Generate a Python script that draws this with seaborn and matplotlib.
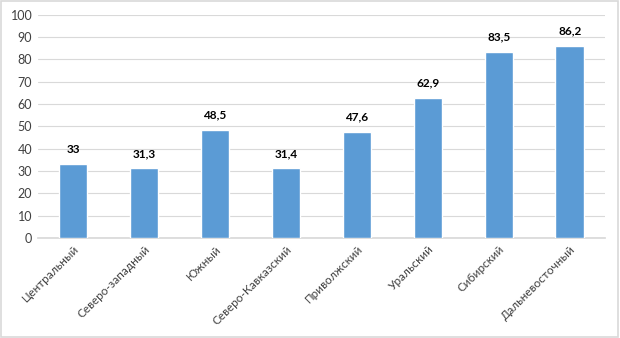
import matplotlib
matplotlib.use("Agg")
import matplotlib.pyplot as plt
import seaborn as sns
import pandas as pd
from matplotlib.patches import Rectangle

categories = ["Центральный", "Северо-западный", "Южный", "Северо-Кавказский",
              "Приволжский", "Уральский", "Сибирский", "Дальневосточный"]
values = [33, 31.3, 48.5, 31.4, 47.6, 62.9, 83.5, 86.2]
labels = ["33", "31,3", "48,5", "31,4", "47,6", "62,9", "83,5", "86,2"]
yticks = [0, 10, 20, 30, 40, 50, 60, 70, 80, 90, 100]

sns.set_theme(style="white")
plt.rcParams['font.family'] = ['Lato', 'DejaVu Sans']

df = pd.DataFrame({"cat": categories, "val": values})

fig = plt.figure(figsize=(6.2, 3.38), dpi=100)
ax = fig.add_axes([0.061, 0.296, 0.915, 0.66])
sns.barplot(data=df, x="cat", y="val", color="#5B9BD5", width=0.4, saturation=1, ax=ax, zorder=3)

ax.set_ylim(0, 100)
ax.set_yticks(yticks)
ax.set_yticklabels([str(t) for t in yticks], fontsize=9, color="#404040")
ax.yaxis.grid(True, color="#D9D9D9", linewidth=0.8, zorder=0)
ax.set_axisbelow(True)
for s in ["top", "right", "left"]:
    ax.spines[s].set_visible(False)
ax.spines["bottom"].set_color("#D9D9D9")
ax.tick_params(axis="both", length=0, pad=4)
ax.set_xlabel("")
ax.set_ylabel("")
ax.set_xticks(range(len(categories)))
ax.set_xticklabels(categories, rotation=45, ha="right", rotation_mode="anchor", fontsize=8.5, color="#404040")
ax.set_xlim(-0.5, len(categories) - 0.5)

for i, (v, l) in enumerate(zip(values, labels)):
    ax.text(i, v + 4, l, ha="center", va="bottom", fontsize=8.5, fontweight="bold", color="#000000")

fig.patches.append(Rectangle((0.002, 0.003), 0.995, 0.993, transform=fig.transFigure,
                             fill=False, edgecolor="#D9D9D9", linewidth=1.2))

fig.savefig("out.png", dpi=100)
